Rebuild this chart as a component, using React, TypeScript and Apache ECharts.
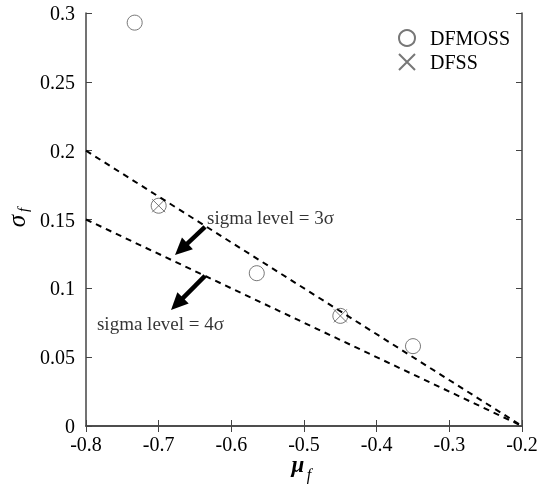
import React, { useEffect, useRef } from "react";
import * as echarts from "echarts";

const dfmossX = [-0.733, -0.7, -0.565, -0.45, -0.35];
const dfmossY = [0.293, 0.16, 0.111, 0.08, 0.058];
const dfssX = [-0.7, -0.45];
const dfssY = [0.16, 0.08];
const line3X = [-0.8, -0.2];
const line3Y = [0.2, 0];
const line4X = [-0.8, -0.2];
const line4Y = [0.15, 0];
// arrows: [tailX, tailY, tipX, tipY]
const arrows = [
  [-0.6362, 0.1446, -0.6775, 0.1242],
  [-0.6362, 0.109, -0.683, 0.0843],
];
const labelTexts = ["sigma level = 3σ", "sigma level = 4σ"];
const labelX = [-0.6335, -0.7849];
const labelY = [0.1518, 0.0748];

const FONT = "Liberation Serif";
const AX = "#444";

export default function App() {
  const ref = useRef<HTMLDivElement>(null);
  useEffect(() => {
    const chart = echarts.init(ref.current!, null, { renderer: "svg" });
    const pts = (xs: number[], ys: number[]) => xs.map((x, i) => [x, ys[i]]);
    chart.setOption({
      animation: false,
      textStyle: { fontFamily: FONT },
      grid: { left: 86, right: 17, top: 13, bottom: 60, outerBoundsMode: "none", containLabel: false },
      legend: {
        orient: "vertical",
        left: 393,
        top: 23,
        itemWidth: 16,
        itemHeight: 16,
        itemGap: 4,
        data: ["DFMOSS", "DFSS"],
        textStyle: { fontFamily: FONT, fontSize: 20, color: "#000", padding: [0, 0, 0, 10] },
      },
      graphic: [
        {
          type: "group",
          x: 16,
          y: 221,
          rotation: Math.PI / 2,
          children: [
            {
              type: "text",
              x: 0,
              y: 0,
              style: { text: "σ", fontSize: 25, fontStyle: "italic", fontFamily: FONT, fill: "#000", align: "center", verticalAlign: "middle" },
            },
            {
              type: "text",
              x: 11,
              y: 7,
              style: { text: "f", fontSize: 15, fontStyle: "italic", fontFamily: FONT, fill: "#000", align: "center", verticalAlign: "middle" },
            },
          ],
        },
        {
          type: "text",
          x: 298,
          y: 464,
          style: { text: "μ", fontSize: 23, lineHeight: 12, fontStyle: "italic", fontWeight: "bold", fontFamily: FONT, fill: "#000", align: "center", verticalAlign: "middle" },
        },
        {
          type: "text",
          x: 309,
          y: 474,
          style: { text: "f", fontSize: 16, lineHeight: 12, fontStyle: "italic", fontFamily: FONT, fill: "#000", align: "center", verticalAlign: "middle" },
        },
      ],
      xAxis: [
        {
          type: "value", min: -0.8, max: -0.2, interval: 0.1,
          axisLine: { lineStyle: { color: AX, width: 1.5 } },
          axisTick: { inside: true, length: 6, lineStyle: { color: AX } },
          axisLabel: { fontSize: 20, lineHeight: 17, color: "#000", fontFamily: FONT, margin: 9 },
          splitLine: { show: false },
        },
        {
          type: "value", position: "top", min: -0.8, max: -0.2, interval: 0.1,
          axisLine: { show: true, lineStyle: { color: AX, width: 1.5 } },
          axisTick: { show: true, inside: true, length: 6, lineStyle: { color: AX } },
          axisLabel: { show: false }, splitLine: { show: false },
        },
      ],
      yAxis: [
        {
          type: "value", min: 0, max: 0.3, interval: 0.05,
          axisLine: { show: true, lineStyle: { color: AX, width: 1.5 } },
          axisTick: { show: true, inside: true, length: 6, lineStyle: { color: AX } },
          axisLabel: { fontSize: 20, lineHeight: 16, color: "#000", fontFamily: FONT, margin: 11 },
          splitLine: { show: false },
        },
        {
          type: "value", position: "right", min: 0, max: 0.3, interval: 0.05,
          axisLine: { show: true, lineStyle: { color: AX, width: 1.5 } },
          axisTick: { show: true, inside: true, length: 6, lineStyle: { color: AX } },
          axisLabel: { show: false }, splitLine: { show: false },
        },
      ],
      series: [
        {
          name: "line3", type: "line", data: pts(line3X, line3Y), symbol: "none", silent: true,
          lineStyle: { color: "#000", width: 2, type: [6, 5] },
        },
        {
          name: "line4", type: "line", data: pts(line4X, line4Y), symbol: "none", silent: true,
          lineStyle: { color: "#000", width: 2, type: [6, 5] },
        },
        {
          name: "arrows", type: "custom", silent: true, clip: false,
          data: arrows,
          renderItem: (params: any, api: any) => {
            const t = api.coord([api.value(0), api.value(1)]);
            const h = api.coord([api.value(2), api.value(3)]);
            const dx = h[0] - t[0];
            const dy = h[1] - t[1];
            const len = Math.sqrt(dx * dx + dy * dy);
            const ux = dx / len;
            const uy = dy / len;
            const headLen = 17;
            const headHalf = 8;
            const bx = h[0] - ux * headLen;
            const by = h[1] - uy * headLen;
            const px = -uy;
            const py = ux;
            return {
              type: "group",
              children: [
                {
                  type: "line",
                  shape: { x1: t[0], y1: t[1], x2: bx + ux * 2, y2: by + uy * 2 },
                  style: { stroke: "#000", lineWidth: 4.5 },
                },
                {
                  type: "polygon",
                  shape: {
                    points: [
                      [h[0], h[1]],
                      [bx + px * headHalf, by + py * headHalf],
                      [bx - px * headHalf, by - py * headHalf],
                    ],
                  },
                  style: { fill: "#000" },
                },
              ],
            };
          },
        },
        {
          name: "DFMOSS", type: "scatter", data: pts(dfmossX, dfmossY), symbol: "circle", symbolSize: 15,
          itemStyle: { color: "rgba(0,0,0,0)", borderColor: "#555", borderWidth: 1 },
        },
        {
          name: "DFSS", type: "scatter", data: pts(dfssX, dfssY), symbol: "path://M0,0L10,10M10,0L0,10", symbolSize: 13,
          itemStyle: { color: "rgba(0,0,0,0)", borderColor: "#555", borderWidth: 1 },
        },
        {
          name: "labels", type: "scatter", symbolSize: 0, silent: true, clip: false,
          data: labelTexts.map((t, i) => ({ value: [labelX[i], labelY[i]], label: { formatter: t } })),
          label: { show: true, position: "right", distance: 0, fontSize: 19, color: "#000", fontFamily: FONT },
        },
      ],
    });
    return () => chart.dispose();
  }, []);
  return <div ref={ref} style={{ position: "fixed", left: 0, top: 0, width: 539, height: 486 }} />;
}
